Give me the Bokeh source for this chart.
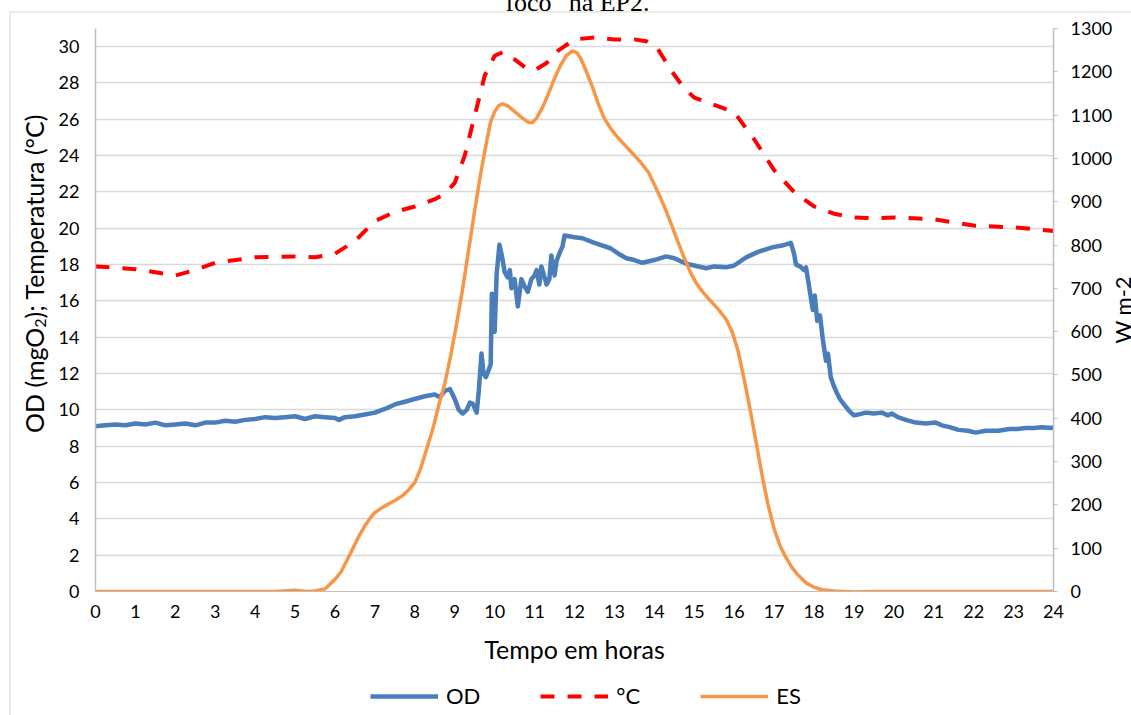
from bokeh.plotting import figure
from bokeh.layouts import column, row
from bokeh.models import Range1d, LinearAxis, Legend, LegendItem, FixedTicker, Div
from bokeh.embed import file_html
from bokeh.resources import INLINE

# ---------------- data ----------------
hour_ticks = list(range(0, 25))
left_ticks = list(range(0, 31, 2))
right_ticks = list(range(0, 1301, 100))

od_hours = [0.0, 0.25, 0.5, 0.75, 1.0, 1.25, 1.5, 1.75, 2.0, 2.25, 2.5, 2.75, 3.0, 3.25, 3.5, 3.75,
            4.0, 4.25, 4.5, 4.75, 5.0, 5.25, 5.5, 5.75, 6.0, 6.1, 6.25, 6.5, 6.75, 7.0, 7.25, 7.5,
            7.75, 8.0, 8.25, 8.5, 8.63, 8.75, 8.88, 9.0, 9.1, 9.2, 9.3, 9.38, 9.45, 9.55, 9.6, 9.67,
            9.72, 9.78, 9.85, 9.9, 9.93, 9.97, 10.0, 10.05, 10.12, 10.18, 10.25, 10.32, 10.38, 10.42,
            10.5, 10.58, 10.67, 10.75, 10.83, 10.92, 11.0, 11.05, 11.12, 11.17, 11.25, 11.3, 11.37,
            11.42, 11.5, 11.55, 11.62, 11.7, 11.75, 11.9, 12.0, 12.2, 12.5, 12.9, 13.1, 13.3, 13.5,
            13.7, 14.0, 14.3, 14.5, 14.8, 15.0, 15.3, 15.5, 15.8, 16.0, 16.3, 16.6, 16.95, 17.2,
            17.42, 17.5, 17.55, 17.65, 17.75, 17.8, 17.87, 17.92, 17.97, 18.02, 18.08, 18.15, 18.22,
            18.3, 18.35, 18.42, 18.5, 18.58, 18.65, 18.75, 18.88, 19.0, 19.12, 19.3, 19.5, 19.7,
            19.85, 19.95, 20.1, 20.3, 20.55, 20.8, 21.05, 21.2, 21.4, 21.62, 21.85, 22.05, 22.3,
            22.62, 22.9, 23.1, 23.3, 23.5, 23.7, 23.95, 24.0]
od_values = [9.1, 9.15, 9.2, 9.15, 9.25, 9.2, 9.3, 9.15, 9.2, 9.25, 9.15, 9.3, 9.3, 9.4, 9.35, 9.45,
             9.5, 9.6, 9.55, 9.6, 9.65, 9.5, 9.65, 9.6, 9.55, 9.45, 9.6, 9.65, 9.75, 9.85, 10.05, 10.3,
             10.45, 10.6, 10.75, 10.85, 10.7, 11.05, 11.15, 10.6, 10.0, 9.8, 10.0, 10.4, 10.35, 9.85, 11.0, 13.1,
             12.0, 11.8, 12.2, 12.5, 16.4, 14.5, 14.3, 17.5, 19.1, 18.5, 17.6, 17.3, 17.7, 16.7,
             17.2, 15.7, 17.2, 16.8, 16.5, 17.2, 17.4, 17.7, 16.9, 17.9, 17.3, 16.9, 17.2,
             18.5, 17.4, 18.2, 18.6, 19.0, 19.6, 19.55, 19.5, 19.45, 19.2, 18.9, 18.6, 18.35, 18.25,
             18.1, 18.25, 18.45, 18.35, 18.05, 17.95, 17.8, 17.9, 17.85, 17.95, 18.4, 18.7, 18.95, 19.05,
             19.2, 18.6, 18.0, 17.9, 17.7, 17.85, 16.9, 16.2, 15.5, 16.3, 14.9, 15.2, 13.9,
             12.7, 13.1, 11.8, 11.3, 10.9, 10.6, 10.3, 9.95, 9.7, 9.75, 9.85, 9.8, 9.85,
             9.7, 9.8, 9.6, 9.45, 9.3, 9.25, 9.3, 9.15, 9.05, 8.9, 8.85, 8.75, 8.85,
             8.85, 8.95, 8.95, 9.0, 9.0, 9.05, 9.0, 9.05]

temp_hours = [0, 1, 2, 2.5, 3, 4, 5, 5.5, 6, 6.5, 7, 7.5, 8, 8.5, 8.75, 9.0, 9.25, 9.5, 9.75, 10.0,
              10.2, 10.5, 10.8, 11.0, 11.3, 11.6, 12.0, 12.5, 13.0, 13.5, 13.8, 14.05, 14.45, 14.75,
              15.0, 15.5, 16.0, 16.5, 17.0, 17.5, 18.0, 18.5, 19.0, 19.5, 20.0, 21.0, 22.0, 23.0, 24.0]
temp_values = [17.9, 17.75, 17.4, 17.7, 18.1, 18.4, 18.45, 18.4, 18.6, 19.3, 20.4, 20.9, 21.2, 21.6, 21.9,
               22.5, 24.0, 26.2, 28.4, 29.5, 29.7, 29.3, 28.8, 28.7, 29.1, 29.8, 30.4, 30.5, 30.4, 30.4,
               30.3, 30.0, 28.6, 27.7, 27.2, 26.8, 26.4, 24.9, 23.2, 22.0, 21.2, 20.8, 20.6, 20.55, 20.6,
               20.5, 20.15, 20.05, 19.85]

es_hours = [0, 4.5, 5.0, 5.3, 5.5, 5.75, 6.0, 6.15, 6.3, 6.45, 6.6, 6.75, 6.9, 7.0, 7.15, 7.3, 7.5,
            7.7, 7.85, 8.0, 8.15, 8.3, 8.45, 8.6, 8.75, 8.9, 9.05, 9.2, 9.35, 9.5, 9.65, 9.8, 9.9,
            10.0, 10.1, 10.2, 10.35, 10.5, 10.7, 10.85, 10.95, 11.05, 11.2, 11.35, 11.5, 11.65, 11.8,
            11.95, 12.05, 12.15, 12.3, 12.45, 12.6, 12.75, 12.9, 13.05, 13.25, 13.45, 13.65, 13.85,
            14.0, 14.15, 14.3, 14.45, 14.6, 14.75, 14.9, 15.05, 15.2, 15.4, 15.6, 15.8, 15.95, 16.1,
            16.25, 16.4, 16.55, 16.7, 16.85, 17.0, 17.15, 17.3, 17.45, 17.6, 17.8, 18.0, 18.2, 18.5,
            19.0, 19.5, 24.0]
es_values = [0, 0, 3, 0, 1, 6, 28, 45, 72, 100, 128, 152, 172, 182, 192, 200, 210,
             222, 235, 252, 285, 330, 375, 430, 480, 545, 620, 700, 790, 880, 965, 1040, 1085,
             1108, 1122, 1126, 1120, 1108, 1093, 1083, 1083, 1093, 1118, 1150, 1185, 1215, 1238,
             1248, 1245, 1232, 1200, 1165, 1125, 1092, 1070, 1052, 1032, 1012, 992, 968,
             940, 910, 878, 842, 805, 770, 738, 712, 693, 672, 652, 628, 600, 555,
             490, 420, 345, 268, 200, 145, 105, 78, 55, 38, 20, 10, 4, 1,
             -1, 0, 0]

FONT = "Lato"
FRAME = "#EEEBE0"
OD_STYLE = dict(line_color="#4A7EBB", line_width=4.5, line_join="round")
T_STYLE = dict(line_color="#FF0000", line_width=4, line_dash="14 13")
ES_STYLE = dict(line_color="#F79646", line_width=3.5, line_join="round")

# ---------------- caption fragment (cut at the page top) + top edge of the chart frame ----------------
caption = Div(text='<div style="position:relative;width:1131px;height:13px;overflow:hidden;">'
                   '<div style="box-sizing:border-box;width:1131px;padding-left:24px;'
                   'font-family:\'Liberation Serif\',serif;font-size:26px;line-height:26px;'
                   'margin-top:-10px;text-align:center;color:black;white-space:nowrap;">'
                   'foco" na EP2.</div>'
                   '<div style="position:absolute;left:9px;top:11px;width:1122px;height:2px;'
                   'background:%s;"></div></div>' % FRAME,
              width=1131, height=13, margin=0,
              styles={"overflow": "hidden"})

# ---------------- left axis title (placed off-centre as in the original) ----------------
left_title = Div(text='<div style="position:relative;width:50px;height:659px;overflow:hidden;">'
                      '<div style="position:absolute;left:9px;top:0;width:2px;height:659px;'
                      'background:%s;"></div>'
                      '<div style="position:absolute;left:19px;top:61px;width:30px;height:400px;'
                      'line-height:30px;text-align:center;writing-mode:vertical-rl;'
                      'transform:rotate(180deg);font-family:Lato;font-size:25px;color:black;'
                      'white-space:nowrap;">'
                      'OD (mgO<sub style="font-size:16px;line-height:0;">2</sub>); Temperatura (°C)'
                      '</div></div>' % FRAME,
                 width=50, height=659, margin=0, styles={"overflow": "hidden"})

# ---------------- main figure ----------------
p = figure(width=1065, height=659, output_backend="svg", toolbar_location=None,
           x_range=Range1d(0, 24), y_range=Range1d(0, 31),
           min_border_left=45, min_border_right=60, min_border_top=15, min_border_bottom=81,
           background_fill_color="white", border_fill_color=None, margin=0)
p.outline_line_color = None
p.extra_y_ranges = {"es": Range1d(0, 1300)}

p.xgrid.visible = False
p.ygrid.grid_line_color = "#D9D9D9"
p.ygrid.grid_line_width = 1.5
p.ygrid.ticker = FixedTicker(ticks=left_ticks)

xa = p.xaxis[0]
xa.ticker = FixedTicker(ticks=hour_ticks)
xa.axis_label = "Tempo em horas"
xa.axis_line_color = "#BFBFBF"
xa.major_tick_out = 0
xa.major_tick_in = 0
xa.minor_tick_line_color = None
xa.major_label_text_font = FONT
xa.major_label_text_font_size = "18px"
xa.major_label_text_color = "black"
xa.major_label_standoff = 13
xa.axis_label_text_font = FONT
xa.axis_label_text_font_size = "25px"
xa.axis_label_text_font_style = "normal"
xa.axis_label_text_color = "black"
xa.axis_label_standoff = 13

ya = p.yaxis[0]
ya.ticker = FixedTicker(ticks=left_ticks)
ya.axis_line_color = "#BFBFBF"
ya.axis_line_width = 1.5
ya.major_tick_out = 0
ya.major_tick_in = 0
ya.minor_tick_line_color = None
ya.major_label_text_font = FONT
ya.major_label_text_font_size = "18px"
ya.major_label_text_color = "black"
ya.major_label_standoff = 16

ra = LinearAxis(y_range_name="es", ticker=FixedTicker(ticks=right_ticks))
ra.axis_line_color = "#BFBFBF"
ra.axis_line_width = 1.5
ra.major_tick_out = 4
ra.major_tick_in = 0
ra.major_tick_line_color = "#BFBFBF"
ra.minor_tick_line_color = None
ra.major_label_text_font = FONT
ra.major_label_text_font_size = "18px"
ra.major_label_text_color = "black"
ra.major_label_standoff = 13
p.add_layout(ra, "right")

p.line(od_hours, od_values, **OD_STYLE)
p.line(temp_hours, temp_values, **T_STYLE)
p.line(es_hours, es_values, y_range_name="es", **ES_STYLE)

# right axis title, cut by the page edge like the original
right_title = Div(text='<div style="position:relative;width:16px;height:659px;overflow:hidden;">'
                       '<div style="position:absolute;left:-42px;top:284px;width:100px;height:26px;'
                       'line-height:26px;text-align:center;transform:rotate(-90deg);'
                       'font-family:Lato;font-size:22px;color:black;white-space:nowrap;">W m-2</div></div>',
                  width=16, height=659, margin=0, styles={"overflow": "hidden"})

# ---------------- legend strip (its own small figure, lines kept out of view) ----------------
lg = figure(width=1131, height=43, output_backend="svg", toolbar_location=None,
            x_axis_type=None, y_axis_type=None,
            x_range=Range1d(100, 101), y_range=Range1d(100, 101), min_border=0,
            background_fill_color=None, border_fill_color=None, margin=0,
            styles={"background": "linear-gradient(%s,%s) 9px 0 / 2px 100%% no-repeat" % (FRAME, FRAME)})
lg.outline_line_color = None
lg.grid.visible = False
k_od = lg.line(od_hours, od_values, **OD_STYLE)
k_t = lg.line(temp_hours, temp_values, **T_STYLE)
k_es = lg.line(es_hours, es_values, **ES_STYLE)
legend = Legend(items=[LegendItem(label="OD", renderers=[k_od]),
                       LegendItem(label="°C", renderers=[k_t]),
                       LegendItem(label="ES", renderers=[k_es])],
                orientation="horizontal", location=(370, 6),
                glyph_width=68, glyph_height=20, label_standoff=8, spacing=60,
                padding=0, margin=0, border_line_alpha=0, background_fill_alpha=0,
                label_text_font=FONT, label_text_font_size="22px", label_text_color="black")
lg.add_layout(legend, "center")

layout = column(caption, row(left_title, p, right_title, spacing=0), lg, spacing=0)

open("out.html", "w").write(file_html(layout, INLINE))
